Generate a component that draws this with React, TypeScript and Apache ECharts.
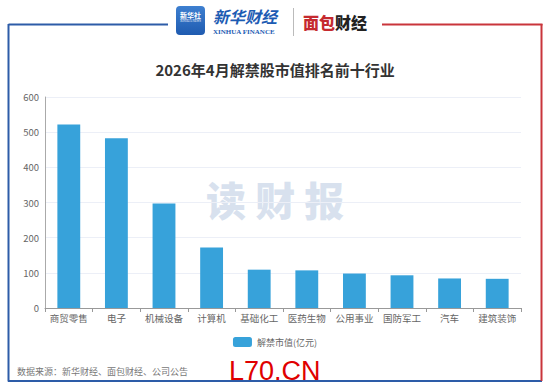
import React, { useEffect, useRef } from "react";
import * as echarts from "echarts";

const categories = ["商贸零售", "电子", "机械设备", "计算机", "基础化工", "医药生物", "公用事业", "国防军工", "汽车", "建筑装饰"];
const values = [522, 483, 297, 172, 109, 107, 98, 93, 84, 83];
const seriesName = "解禁市值(亿元)";
const yTicks = { min: 0, max: 600, interval: 100 };
const titleText = "2026年4月解禁股市值排名前十行业";
const sourceText = "数据来源：新华财经、面包财经、公司公告";

const BLUE = "#2d5ca8";
const RED = "#c9353b";

export default function App() {
  const ref = useRef<HTMLDivElement>(null);
  useEffect(() => {
    if (!ref.current) return;
    const chart = echarts.init(ref.current, undefined, { renderer: "svg" });
    const font = "'Noto Sans CJK SC', 'Noto Sans', sans-serif";
    chart.setOption({
      animation: false,
      backgroundColor: "#ffffff",
      textStyle: { fontFamily: font },
      title: {
        text: titleText,
        left: "center",
        top: 57,
        textStyle: { fontSize: 15, fontWeight: "bold", color: "#333", fontFamily: font },
      },
      grid: { left: 45, right: 29, top: 97, bottom: 81, containLabel: false },
      legend: {
        data: [seriesName],
        left: "center",
        top: 332,
        icon: "roundRect",
        itemWidth: 19,
        itemHeight: 10,
        itemGap: 4,
        textStyle: { fontSize: 9, color: "#666", fontFamily: font },
      },
      xAxis: {
        type: "category",
        data: categories,
        axisLine: { show: true, lineStyle: { color: "#999" } },
        axisTick: { show: true, lineStyle: { color: "#999" }, length: 4 },
        axisLabel: { fontSize: 9.5, color: "#666", margin: 5, interval: 0, fontFamily: font },
      },
      yAxis: {
        type: "value",
        min: yTicks.min,
        max: yTicks.max,
        interval: yTicks.interval,
        axisLine: { show: true, lineStyle: { color: "#aaa" } },
        axisTick: { show: false },
        axisLabel: { fontSize: 9.5, color: "#666", margin: 6, fontFamily: font },
        splitLine: { show: true, lineStyle: { color: "#eceff7" } },
      },
      series: [
        {
          name: seriesName,
          type: "bar",
          data: values,
          barWidth: "48%",
          itemStyle: { color: "#37a2da" },
          z: 3,
        },
      ],
      graphic: [
        // watermark
        {
          type: "text",
          left: 206,
          top: 179,
          z: -10,
          style: {
            text: "读 财 报",
            font: `900 40px ${font}`,
            fill: "rgba(190,206,228,0.6)",
          },
        },
        // frame
        { type: "line", shape: { x1: 8.5, y1: 24.5, x2: 168, y2: 24.5 }, style: { stroke: BLUE, lineWidth: 2 } },
        { type: "line", shape: { x1: 8.5, y1: 24, x2: 8.5, y2: 381.5 }, style: { stroke: BLUE, lineWidth: 2 } },
        { type: "line", shape: { x1: 8, y1: 381, x2: 542, y2: 381 }, style: { stroke: BLUE, lineWidth: 2 } },
        { type: "line", shape: { x1: 382, y1: 24.5, x2: 542.5, y2: 24.5 }, style: { stroke: RED, lineWidth: 2 } },
        { type: "line", shape: { x1: 541.5, y1: 24, x2: 541.5, y2: 381 }, style: { stroke: RED, lineWidth: 2 } },
        // xinhua logo square
        {
          type: "rect",
          shape: { x: 176, y: 6, width: 29, height: 29, r: 4 },
          style: {
            fill: new echarts.graphic.LinearGradient(0, 0, 0, 1, [
              { offset: 0, color: "#3d7fd0" },
              { offset: 1, color: "#1f5bb0" },
            ]),
          },
        },
        {
          type: "text",
          x: 190.5,
          y: 15,
          style: { text: "新华社", font: `bold 7px ${font}`, fill: "#fff", align: "center", verticalAlign: "middle" },
        },
        {
          type: "text",
          x: 190.5,
          y: 21,
          style: { text: "XINHUA NEWS", font: `3px serif`, fill: "#fff", align: "center", verticalAlign: "middle" },
        },
        {
          type: "text",
          x: 213,
          y: 16,
          style: { text: "新华财经", font: `italic bold 16px ${font}`, fill: "#1c5bb3", verticalAlign: "middle" },
        },
        {
          type: "text",
          x: 213,
          y: 32,
          style: { text: "XINHUA FINANCE", font: `bold 7px 'Liberation Serif', serif`, fill: "#1c5bb3", verticalAlign: "middle" },
        },
        { type: "line", shape: { x1: 293.5, y1: 8, x2: 293.5, y2: 36 }, style: { stroke: "#bbb", lineWidth: 1 } },
        {
          type: "text",
          x: 303,
          y: 22,
          style: {
            text: "{r|面包}{k|财经}",
            verticalAlign: "middle",
            rich: {
              r: { font: `900 16px ${font}`, fill: "#c52a2f" },
              k: { font: `900 16px ${font}`, fill: "#222" },
            },
          },
        },
        // source
        {
          type: "text",
          x: 17,
          y: 371,
          style: { text: sourceText, font: `9px ${font}`, fill: "#777", verticalAlign: "middle" },
        },
        {
          type: "text",
          x: 229,
          y: 371,
          style: { text: "L70.CN", font: `27px 'Liberation Sans', Arial, sans-serif`, fill: "#e00000", verticalAlign: "middle" },
        },
      ],
    });
    return () => chart.dispose();
  }, []);
  return <div ref={ref} style={{ position: "fixed", left: 0, top: 0, width: 550, height: 389 }} />;
}
